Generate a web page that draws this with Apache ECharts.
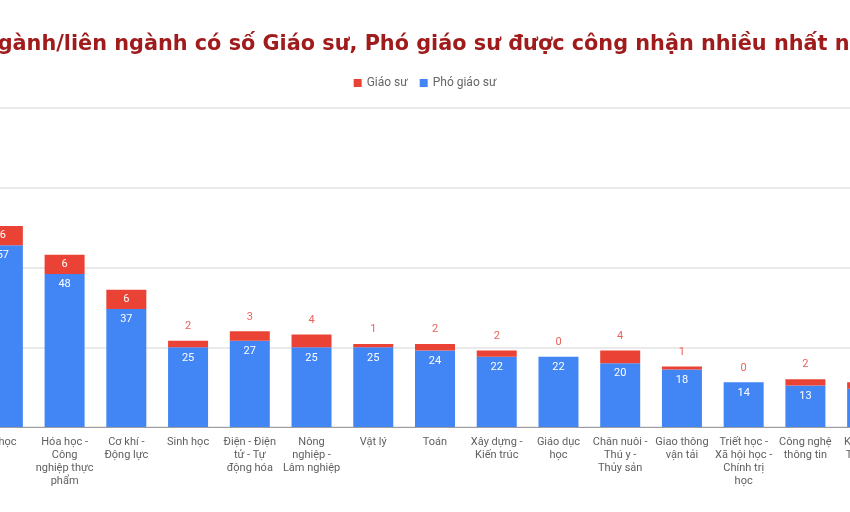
<!DOCTYPE html>
<html>
<head>
<meta charset="utf-8">
<script src="https://cdn.jsdelivr.net/npm/echarts@6/dist/echarts.min.js"></script>
<style>
html,body{margin:0;padding:0;width:850px;height:512px;overflow:hidden;background:#fff;position:relative;}
#chart{position:absolute;left:-125px;top:0;width:1100px;height:512px;}
</style>
</head>
<body>
<div id="chart"></div>
<script>
const titleText = "Các ngành/liên ngành có số Giáo sư, Phó giáo sư được công nhận nhiều nhất năm 2023";
const categories = [
  "Y học",
  "Hóa học -\nCông\nnghiệp thực\nphẩm",
  "Cơ khí -\nĐộng lực",
  "Sinh học",
  "Điện - Điện\ntử - Tự\nđộng hóa",
  "Nông\nnghiệp -\nLâm nghiệp",
  "Vật lý",
  "Toán",
  "Xây dựng -\nKiến trúc",
  "Giáo dục\nhọc",
  "Chăn nuôi -\nThú y -\nThủy sản",
  "Giao thông\nvận tải",
  "Triết học -\nXã hội học -\nChính trị\nhọc",
  "Công nghệ\nthông tin",
  "Khoa học\nTrái đất -\nMỏ"
];
const giaoSu    = [6, 6, 6, 2, 3, 4, 1, 2, 2, 0, 4, 1, 0, 2, 2];
const phoGiaoSu = [57, 48, 37, 25, 27, 25, 25, 24, 22, 22, 20, 18, 14, 13, 12];
const yTicks = [0, 25, 50, 75, 100];

const RED = '#EA4335', BLUE = '#4285F4';
const chart = echarts.init(document.getElementById('chart'), null, {renderer: 'canvas'});

const redData = giaoSu.map(v => {
  if (v >= 5) {
    return {value: v, label: {show: true, position: 'inside', color: '#ffffff'}};
  }
  return {value: v, label: {show: true, position: 'top', distance: 9, color: '#e8645a'}};
});

chart.setOption({
  animation: false,
  backgroundColor: '#ffffff',
  title: {
    text: titleText,
    left: 54,
    top: 29,
    textStyle: {fontFamily: 'DejaVu Sans', fontWeight: 'bold', fontSize: 20.8, color: '#a01c1c'}
  },
  legend: {
    data: ['Giáo sư', 'Phó giáo sư'],
    left: 'center',
    top: 72,
    icon: 'rect',
    itemWidth: 8,
    itemHeight: 8,
    itemGap: 12,
    textStyle: {fontFamily: 'Roboto', fontSize: 12, color: '#666666'}
  },
  grid: {left: 97, right: 77, top: 108, bottom: 85, containLabel: false},
  xAxis: {
    type: 'category',
    data: categories,
    axisTick: {show: false},
    axisLine: {show: true, lineStyle: {color: '#9e9e9e', width: 1}},
    axisLabel: {
      interval: 0,
      margin: 9,
      fontFamily: 'Roboto',
      fontSize: 11,
      lineHeight: 13,
      color: '#5f5f5f',
      align: 'center'
    }
  },
  yAxis: {
    type: 'value',
    min: yTicks[0],
    max: yTicks[yTicks.length - 1],
    interval: 25,
    axisLabel: {show: false},
    axisLine: {show: false},
    axisTick: {show: false},
    splitLine: {lineStyle: {color: '#e3e3e3', width: 1.5}}
  },
  series: [
    {
      name: 'Phó giáo sư',
      type: 'bar',
      stack: 'total',
      barWidth: 40,
      itemStyle: {color: BLUE},
      label: {show: true, position: 'insideTop', distance: 5, color: '#ffffff', fontFamily: 'Roboto', fontSize: 11},
      data: phoGiaoSu,
      z: 2
    },
    {
      name: 'Giáo sư',
      type: 'bar',
      stack: 'total',
      barWidth: 40,
      itemStyle: {color: RED},
      label: {show: true, fontFamily: 'Roboto', fontSize: 11},
      data: redData,
      z: 2
    }
  ]
});
</script>
</body>
</html>
